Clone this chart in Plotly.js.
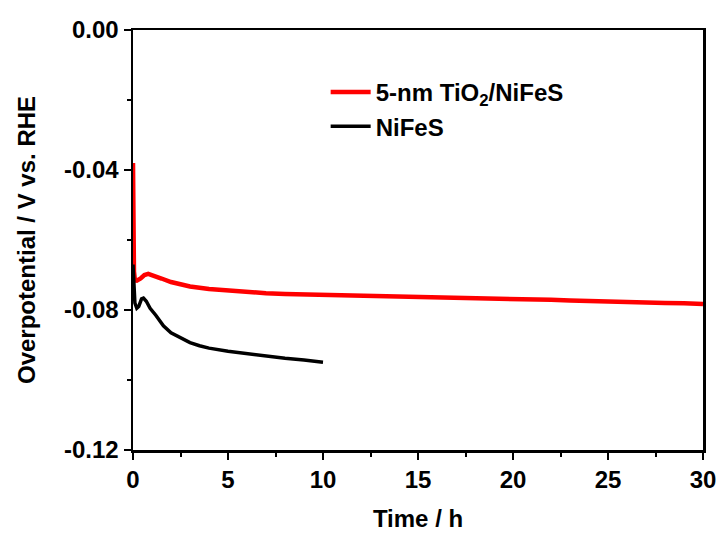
<!DOCTYPE html>
<html>
<head>
<meta charset="utf-8">
<script src="https://cdn.plot.ly/plotly-3.0.1.min.js"></script>
<style>html,body{margin:0;padding:0;background:#fff;}#chart{width:722px;height:534px;}</style>
</head>
<body>
<div id="chart"></div>
<script>
// Time (h) and overpotential (V vs. RHE)
const tioTime = [0, 0.02, 0.05, 0.1, 0.2, 0.4, 0.6, 0.8, 1.0, 1.5, 2, 3, 4, 5, 6, 7, 8, 9, 10, 11, 12, 13, 14, 15, 16, 17, 18, 19, 20, 21, 22, 23, 24, 25, 26, 27, 28, 29, 30];
const tioEta  = [-0.038, -0.060, -0.069, -0.0715, -0.0716, -0.0710, -0.0700, -0.0697, -0.0700, -0.0710, -0.0720, -0.0733, -0.0740, -0.0745, -0.0749, -0.0752, -0.0754, -0.0755, -0.0756, -0.0757, -0.0758, -0.0760, -0.0761, -0.0763, -0.0764, -0.0765, -0.0766, -0.0767, -0.0768, -0.0770, -0.0771, -0.0773, -0.0775, -0.0777, -0.0778, -0.0779, -0.0780, -0.0781, -0.0783];

const nifesTime = [0, 0.05, 0.1, 0.2, 0.3, 0.45, 0.55, 0.7, 0.9, 1.2, 1.6, 2.0, 2.5, 3, 3.5, 4, 5, 6, 7, 8, 9, 10];
const nifesEta  = [-0.067, -0.074, -0.078, -0.0795, -0.0790, -0.0768, -0.0766, -0.0775, -0.0795, -0.0815, -0.0845, -0.0865, -0.0880, -0.0893, -0.0902, -0.0909, -0.0918, -0.0925, -0.0932, -0.0938, -0.0943, -0.0949];

const xTicks = [0, 5, 10, 15, 20, 25, 30];
const yTicks = [0, -0.04, -0.08, -0.12];
const yTickText = ['0.00', '-0.04', '-0.08', '-0.12'];

const FONT = 'Liberation Sans, Arial, sans-serif';

const traces = [
  {x: tioTime, y: tioEta, type: 'scatter', mode: 'lines', name: '<b>5-nm TiO<sub>2</sub>/NiFeS</b>',
   line: {color: '#ff0000', width: 4.5}},
  {x: nifesTime, y: nifesEta, type: 'scatter', mode: 'lines', name: '<b>NiFeS</b>',
   line: {color: '#000000', width: 3.5}}
];

const axisCommon = {
  showline: true, linecolor: '#000', linewidth: 2.5, mirror: true,
  ticks: 'outside', ticklen: 7, tickwidth: 2, tickcolor: '#000',
  showgrid: false, zeroline: false,
  tickfont: {family: FONT, size: 24, color: '#000'}
};

const layout = {
  width: 722, height: 534,
  margin: {l: 133, r: 19, t: 30, b: 84},
  paper_bgcolor: '#fff', plot_bgcolor: '#fff',
  showlegend: true,
  legend: {x: 0.338, y: 0.905, xanchor: 'left', yanchor: 'top', bgcolor: 'rgba(0,0,0,0)',
           font: {family: FONT, size: 24, color: '#000'}, tracegroupgap: 0, itemwidth: 40},
  xaxis: Object.assign({}, axisCommon, {
    range: [0, 30], tickvals: xTicks, ticktext: xTicks.map(v => '<b>' + v + '</b>'),
    minor: {tickvals: [2.5, 7.5, 12.5, 17.5, 22.5, 27.5], ticks: 'outside', ticklen: 4, tickwidth: 2, tickcolor: '#000'},
    title: {text: '<b>Time / h</b>', font: {family: FONT, size: 24, color: '#000'}, standoff: 18}
  }),
  yaxis: Object.assign({}, axisCommon, {
    range: [-0.12, 0], tickvals: yTicks, ticktext: yTickText.map(v => '<b>' + v + '</b>'),
    minor: {tickvals: [-0.02, -0.06, -0.10], ticks: 'outside', ticklen: 4, tickwidth: 2, tickcolor: '#000'},
    title: {text: '<b>Overpotential / V vs. RHE</b>', font: {family: FONT, size: 24, color: '#000'}, standoff: 22}
  })
};

Plotly.newPlot('chart', traces, layout, {displayModeBar: false, staticPlot: true});
</script>
</body>
</html>
